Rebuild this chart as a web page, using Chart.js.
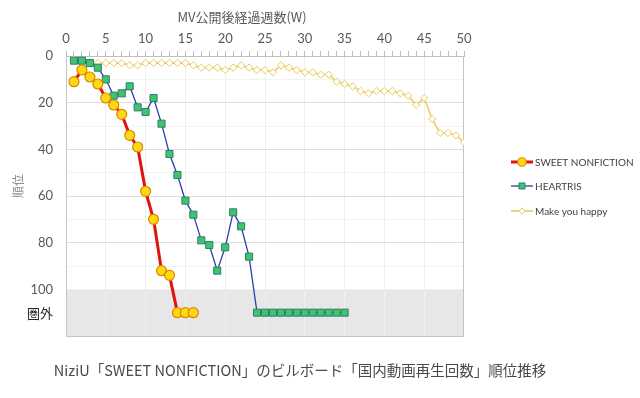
<!DOCTYPE html>
<html>
<head>
<meta charset="utf-8">
<script src="https://cdn.jsdelivr.net/npm/chart.js@4"></script>
<style>
  html, body { margin: 0; padding: 0; background: #ffffff; }
  #wrap { position: relative; width: 640px; height: 398px; }
</style>
</head>
<body>
<div id="wrap"><canvas id="rankChart" width="640" height="398"></canvas></div>
<script>
// 圏外 = 100位の外
const OUT = 110;

// 順位 (1週目から)
const sweetRank = [11, 6, 9, 12, 18, 21, 25, 34, 39, 58, 70, 92, 94, OUT, OUT, OUT];
const heartrisRank = [2, 2, 3, 5, 10, 17, 16, 13, 22, 24, 18, 29, 42, 51, 62, 68, 79, 81, 92, 82, 67, 73, 86,
    OUT, OUT, OUT, OUT, OUT, OUT, OUT, OUT, OUT, OUT, OUT, OUT];
const happyRank = [1, 2, 3, 3, 3, 3, 3, 4, 4, 3, 3, 3, 3, 3, 3, 4, 5, 5, 5, 6, 5, 4, 5, 6, 6,
    7, 4, 5, 6, 7, 7, 8, 8, 11, 12, 13, 15, 16, 15, 15, 15, 16, 17, 21, 18, 27, 33, 33, 34, 37];

const seriesNames = ['SWEET NONFICTION', 'HEARTRIS', 'Make you happy'];
const xTitle = 'MV公開後経過週数(W)';
const yTitle = '順位';
const caption = 'NiziU「SWEET NONFICTION」のビルボード「国内動画再生回数」順位推移';

const FONT = "Lato, 'Noto Sans CJK JP', sans-serif";
const JP_FONT = "'Noto Sans CJK JP', sans-serif";

function toPoints(arr) {
    return arr.map((v, i) => ({ x: i + 1, y: v }));
}

function tickValue(c) {
    return c.tick ? c.tick.value : null;
}

function drawMarker(c, style, r, x, y) {
    if (style === 'circle') {
        c.arc(x, y, r, 0, Math.PI * 2);
    } else if (style === 'rect') {
        const s = r * Math.SQRT1_2;
        c.rect(x - s, y - s, s * 2, s * 2);
    } else {
        c.moveTo(x, y - r);
        c.lineTo(x + r, y);
        c.lineTo(x, y + r);
        c.lineTo(x - r, y);
        c.closePath();
    }
}

// 背景の灰色帯、枠線、軸タイトル、凡例、キャプション
const decorPlugin = {
    id: 'decor',
    beforeDraw(chart) {
        const c = chart.ctx;
        const area = chart.chartArea;
        const y = chart.scales.y;
        const top = y.getPixelForValue(100);
        const bottom = y.getPixelForValue(120);
        c.save();
        c.fillStyle = '#e7e7e7';
        c.fillRect(area.left, top, area.right - area.left, bottom - top);
        c.restore();
    },
    beforeDatasetsDraw(chart) {
        const c = chart.ctx;
        const a = chart.chartArea;
        c.save();
        c.strokeStyle = '#c4c4c4';
        c.lineWidth = 1;
        c.beginPath();
        c.moveTo(a.left + 0.5, a.top);
        c.lineTo(a.left + 0.5, a.bottom + 0.5);
        c.lineTo(a.right - 0.5, a.bottom + 0.5);
        c.lineTo(a.right - 0.5, a.top);
        c.stroke();
        c.restore();
    },
    afterDraw(chart) {
        const c = chart.ctx;
        c.save();

        // x軸タイトル
        c.fillStyle = '#595959';
        c.font = '13px ' + JP_FONT;
        c.textAlign = 'center';
        c.textBaseline = 'middle';
        c.fillText(xTitle, 242, 17);

        // y軸タイトル
        c.save();
        c.translate(18, 186);
        c.rotate(-Math.PI / 2);
        c.fillStyle = '#8c8c8c';
        c.font = '12px ' + JP_FONT;
        c.fillText(yTitle, 0, 0);
        c.restore();

        // 凡例
        const legendY = [162, 186, 211];
        chart.data.datasets.forEach((ds, i) => {
            const ly = legendY[i];
            c.strokeStyle = ds.borderColor;
            c.lineWidth = ds.borderWidth;
            c.beginPath();
            c.moveTo(511, ly);
            c.lineTo(533, ly);
            c.stroke();
            c.fillStyle = ds.pointBackgroundColor;
            c.strokeStyle = ds.pointBorderColor;
            c.lineWidth = ds.pointBorderWidth;
            c.beginPath();
            drawMarker(c, ds.pointStyle, ds.pointRadius * 0.85, 522, ly);
            c.fill();
            c.stroke();
            c.fillStyle = '#404040';
            c.font = '10px ' + FONT;
            c.textAlign = 'left';
            c.fillText(ds.label, 535, ly + 0.5);
        });

        // キャプション
        c.fillStyle = '#4a4a4a';
        c.font = '14.5px ' + JP_FONT;
        c.textAlign = 'center';
        c.fillText(caption, 300, 370);
        c.restore();
    }
};

const ctx = document.getElementById('rankChart');
new Chart(ctx, {
    type: 'line',
    data: {
        datasets: [{
            label: seriesNames[0],
            data: toPoints(sweetRank),
            borderColor: '#e0140f',
            borderWidth: 3,
            pointStyle: 'circle',
            pointRadius: 5,
            pointBackgroundColor: '#ffd812',
            pointBorderColor: '#d98a00',
            pointBorderWidth: 1.2
        }, {
            label: seriesNames[1],
            data: toPoints(heartrisRank),
            borderColor: '#2e3fa6',
            borderWidth: 1.3,
            pointStyle: 'rect',
            pointRadius: 5,
            pointBackgroundColor: '#3fc46a',
            pointBorderColor: '#2b7d74',
            pointBorderWidth: 1
        }, {
            label: seriesNames[2],
            data: toPoints(happyRank),
            borderColor: '#efd26a',
            borderWidth: 1.8,
            pointStyle: 'rectRot',
            pointRadius: 3.6,
            pointBackgroundColor: '#ffffff',
            pointBorderColor: '#e9c95a',
            pointBorderWidth: 1
        }]
    },
    options: {
        responsive: false,
        animation: false,
        layout: { padding: { left: 0, top: 0, right: 176, bottom: 62 } },
        plugins: {
            legend: { display: false },
            tooltip: { enabled: false }
        },
        elements: { line: { tension: 0 } },
        scales: {
            x: {
                type: 'linear',
                position: 'top',
                min: 0,
                max: 50,
                afterFit(scale) { scale.height = 56; },
                ticks: {
                    stepSize: 1,
                    autoSkip: false,
                    maxRotation: 0,
                    padding: 4,
                    color: '#595959',
                    font: { family: FONT, size: 13 },
                    callback: v => (v % 5 === 0 ? String(v) : '')
                },
                grid: {
                    tickLength: 5,
                    tickColor: '#bfbfbf',
                    color: c => {
                        const v = tickValue(c);
                        if (v === 0 || v === 50) return 'rgba(0,0,0,0)';
                        return v !== null && v % 5 === 0 ? '#efefef' : 'rgba(0,0,0,0)';
                    }
                },
                border: { color: '#bfbfbf' }
            },
            y: {
                reverse: true,
                min: 0,
                max: 120,
                afterFit(scale) { scale.width = 66; },
                ticks: {
                    stepSize: 10,
                    autoSkip: false,
                    padding: 13,
                    color: c => (tickValue(c) === OUT ? '#262626' : '#595959'),
                    font: c => (tickValue(c) === OUT
                        ? { family: JP_FONT, size: 13 }
                        : { family: FONT, size: 13 }),
                    callback: v => {
                        if (v === OUT) return '圏外';
                        return (v % 20 === 0 && v <= 100) ? String(v) : '';
                    }
                },
                grid: {
                    drawTicks: false,
                    color: c => {
                        const v = tickValue(c);
                        if (v === null || v === 0 || v >= 100) return 'rgba(0,0,0,0)';
                        return v % 20 === 0 ? '#dedede' : '#f3f3f3';
                    }
                },
                border: { display: false }
            }
        }
    },
    plugins: [decorPlugin]
});
</script>
</body>
</html>
